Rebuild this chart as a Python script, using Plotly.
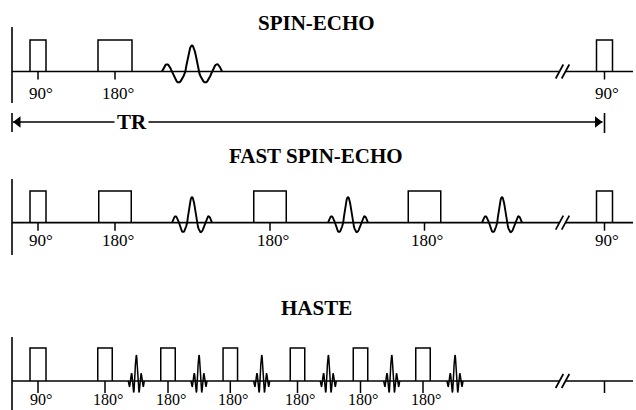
import math
import plotly.graph_objects as go

# ---------------- data (time in arbitrary units, 0 = first 90° pulse) ----------------
titles = ["SPIN-ECHO", "FAST SPIN-ECHO", "HASTE"]

se_times = [0, 77, 566.5]
se_angles = [90, 180, 90]
se_echo_times = [154]

fse_times = [0, 77, 232, 386.5, 566.5]
fse_angles = [90, 180, 180, 180, 90]
fse_echo_times = [154, 310, 464]

haste_times = [0, 67, 130, 192.3, 259.5, 322.5, 385]
haste_angles = [90, 180, 180, 180, 180, 180, 180]
haste_echo_times = [98.3, 161, 223.7, 290.3, 353.7, 417]
haste_next_tr = [566.5]

tr_label = "TR"

# ---------------- layout constants ----------------
W, H = 636, 410
X_START, X_END = -38, 598          # time range shown across the page
AXIS_T = -26                        # vertical start line of each row
LINE_END = 595                      # end of baseline
BREAK_L, BREAK_R = 521.5, 527.5     # "//" break
FONT = "Liberation Serif"

rows = [
    dict(title=titles[0], times=se_times, angles=se_angles, echoes=se_echo_times,
         base=71.5, ax0=27, ax1=103, title_y=23, lab_dy=21.5, tick=8,
         width={90: 16, 180: 34}, ph=31.5, echo="wide", lab_size=17),
    dict(title=titles[1], times=fse_times, angles=fse_angles, echoes=fse_echo_times,
         base=222.7, ax0=179, ax1=255, title_y=156, lab_dy=18, tick=8,
         width={90: 16, 180: 32.5}, ph=31.7, echo="mid", lab_size=17),
    dict(title=titles[2], times=haste_times, angles=haste_angles, echoes=haste_echo_times,
         base=381, ax0=337, ax1=412, title_y=307.5, lab_dy=18, tick=12,
         width={90: 16, 180: 14.5}, ph=33, echo="narrow", lab_size=16),
]

ECHO_STYLE = {
    "wide": dict(hw=30, h=26, bounds=[-1, -0.67, -0.22, 0.22, 0.67, 1],
                 amps=[0.28, -0.42, 1, -0.42, 0.28], lw=2.0),
    "mid": dict(hw=20, h=25.5, bounds=[-1, -0.65, -0.24, 0.24, 0.65, 1],
                amps=[0.25, -0.37, 1, -0.37, 0.25], lw=1.9),
    "narrow": dict(hw=8, h=26, bounds=[-1, -0.72, -0.47, -0.2, 0.2, 0.47, 0.72, 1],
                   amps=[-0.22, 0.3, -0.44, 1, -0.44, 0.3, -0.22], lw=1.5),
}


def echo_path(tc, base, st, n=14):
    xs, ys = [], []
    b, a = st["bounds"], st["amps"]
    for i, amp in enumerate(a):
        l, r = b[i], b[i + 1]
        for k in range(n + 1):
            f = k / n
            xs.append(tc + st["hw"] * (l + (r - l) * f))
            ys.append(base - st["h"] * amp * math.sin(math.pi * f))
    xs.append(None)
    ys.append(None)
    return xs, ys


fig = go.Figure()
ann = []

for r in rows:
    base = r["base"]
    # start line
    fig.add_trace(go.Scatter(x=[AXIS_T, AXIS_T], y=[r["ax0"], r["ax1"]], mode="lines",
                             line=dict(color="black", width=1.6), hoverinfo="skip"))
    # baseline with break
    fig.add_trace(go.Scatter(x=[AXIS_T, BREAK_L, None, BREAK_R, LINE_END],
                             y=[base, base, None, base, base], mode="lines",
                             line=dict(color="black", width=1.7), hoverinfo="skip"))
    # break slashes
    sx, sy = [], []
    for c in (BREAK_L, BREAK_R):
        sx += [c - 3.8, c + 3.8, None]
        sy += [base + 7, base - 7, None]
    fig.add_trace(go.Scatter(x=sx, y=sy, mode="lines",
                             line=dict(color="black", width=1.7), hoverinfo="skip"))
    # RF pulses with ticks and labels
    px, py = [], []
    for t, ang in zip(r["times"], r["angles"]):
        w = r["width"][ang]
        top = base - r["ph"]
        px += [t - w / 2, t - w / 2, t + w / 2, t + w / 2, None, t, t, None]
        py += [base, top, top, base, None, base, base + r["tick"], None]
        ann.append(dict(x=t + 2.5, y=base + r["lab_dy"], text=f"{ang}°", showarrow=False,
                        xanchor="center", yanchor="middle",
                        font=dict(family=FONT, size=r["lab_size"], color="black")))
    fig.add_trace(go.Scatter(x=px, y=py, mode="lines",
                             line=dict(color="black", width=1.5), hoverinfo="skip"))
    # echoes
    st = ECHO_STYLE[r["echo"]]
    ex, ey = [], []
    for t in r["echoes"]:
        xs, ys = echo_path(t, base, st)
        ex += xs
        ey += ys
    fig.add_trace(go.Scatter(x=ex, y=ey, mode="lines",
                             line=dict(color="black", width=st["lw"]), hoverinfo="skip"))
    # title
    ann.append(dict(x=(X_START + X_END) / 2 - 2, y=r["title_y"], text=f"<b>{r['title']}</b>",
                    showarrow=False, xanchor="center", yanchor="middle",
                    font=dict(family=FONT, size=21, color="black")))

# HASTE: next TR tick (no pulse)
hb = rows[2]["base"]
tx, ty = [], []
for t in haste_next_tr:
    tx += [t, t, None]
    ty += [hb, hb + 12, None]
fig.add_trace(go.Scatter(x=tx, y=ty, mode="lines",
                         line=dict(color="black", width=1.5), hoverinfo="skip"))

# TR arrow
TR_Y = 122
tr_l, tr_r = AXIS_T, se_times[-1]
tr_c = 93.5
fig.add_trace(go.Scatter(x=[tr_l, tr_l, None, tr_r, tr_r],
                         y=[113, 132, None, 113, 133], mode="lines",
                         line=dict(color="black", width=1.6), hoverinfo="skip"))
fig.add_trace(go.Scatter(x=[tr_l + 1, tr_c - 17, None, tr_c + 17, tr_r - 2],
                         y=[TR_Y, TR_Y, None, TR_Y, TR_Y], mode="lines",
                         line=dict(color="black", width=1.4), hoverinfo="skip"))
fig.add_trace(go.Scatter(x=[tr_l + 6, tr_r - 7], y=[TR_Y, TR_Y], mode="markers",
                         marker=dict(symbol=["triangle-left", "triangle-right"], size=10,
                                     color="black", line=dict(width=0)),
                         hoverinfo="skip"))
ann.append(dict(x=tr_c, y=TR_Y, text=f"<b>{tr_label}</b>", showarrow=False,
                xanchor="center", yanchor="middle",
                font=dict(family=FONT, size=21, color="black")))

fig.update_layout(
    width=W, height=H, margin=dict(l=0, r=0, t=0, b=0),
    paper_bgcolor="white", plot_bgcolor="white", showlegend=False,
    xaxis=dict(range=[X_START, X_END], visible=False, fixedrange=True),
    yaxis=dict(range=[H, 0], visible=False, fixedrange=True),
    annotations=ann,
)

fig.write_html("out.html", config={"displayModeBar": False},
               post_script="document.body.style.margin='0';document.body.style.overflow='hidden';")
